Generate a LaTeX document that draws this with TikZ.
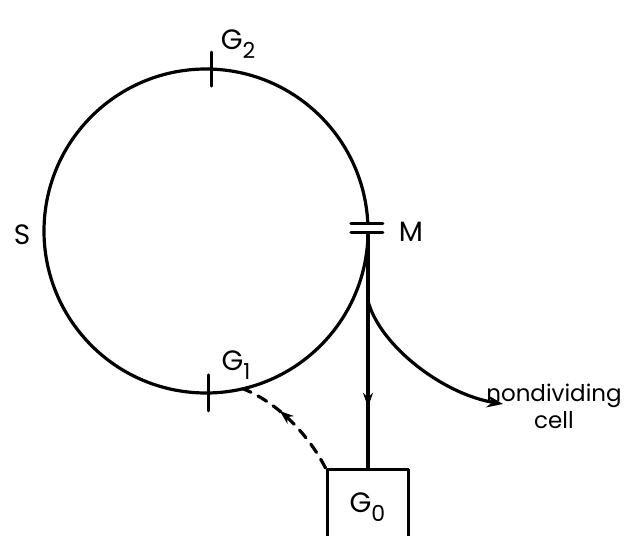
\documentclass[tikz,border=0pt]{standalone}
\usepackage{fontspec}
\setmainfont{Poppins}
\usetikzlibrary{calc}
\usetikzlibrary{arrows.meta,decorations.markings,positioning}

\begin{document}
\begin{tikzpicture}[
  x=0.5pt,y=-0.5pt,
  line cap=round,
  line join=round,
  cyc/.style={draw=black,line width=1.6pt},
  tick/.style={draw=black,line width=1.5pt},
  lbl/.style={font=\fontsize{14}{16}\selectfont,inner sep=0pt},
  small/.style={font=\fontsize{11.5}{13.5}\selectfont,inner sep=0pt},
  midarrow/.style={postaction={decorate},
    decoration={markings,mark=at position #1 with {\arrow{Stealth[length=7pt,width=5pt]}}}}
]
  \useasboundingbox (0,0) rectangle (624,535);

  % The cycle
  \coordinate (C) at (206,231);
  \coordinate (mtop) at ($(C)+(-2.8:162)$);
  \coordinate (mbot) at ($(C)+(0.7:162)$);
  \coordinate (g1) at ($(C)+(89:162)$);
  \coordinate (g2) at ($(C)+(-88:162)$);
  \coordinate (g1in) at ($(C)+(76.8:162)$);
  \draw[cyc] (mbot) arc[start angle=0.7,end angle=357.2,radius=162];

  % Phase marks
  \draw[tick] ($(g1)+(0,-18)$) -- ($(g1)+(0,18)$);
  \draw[tick] ($(g2)+(0,-17)$) -- ($(g2)+(0,17)$);
  \draw[tick] ($(mtop)+(-17,0)$) -- ($(mtop)+(15,0)$);
  \draw[tick] ($(mbot)+(-17,0)$) -- ($(mbot)+(15,0)$);

  % Resting state
  \node[draw,line width=1.5pt,anchor=north,minimum width=40.5pt,minimum height=38pt,lbl]
    (g0) at (367.5,468) {G\raisebox{-0.6ex}{\fontsize{11}{12}\selectfont 0}};

  % Exits from mitosis
  \coordinate (split) at ($(mbot)+(0,68)$);
  \coordinate (tip) at (503,404);
  \draw[cyc,midarrow=0.74] (mbot) -- (mbot |- g0.north);
  \draw[cyc,-{Stealth[length=8pt,width=6pt]}]
    (split) .. controls ($(split)+(12,45)$) and ($(tip)+(-60,-10)$) .. (tip);
  \draw[cyc,dash pattern=on 5pt off 4pt,midarrow=0.63]
    (g0.north west) .. controls (307,432) and (276,402) .. (g1in);

  % Labels
  \node[lbl] (s) at (22,235) {S};
  \node[lbl] (m) at (411,232) {M};
  \node[lbl] (g1lab) at (236,365) {G\raisebox{-0.6ex}{\fontsize{11}{12}\selectfont 1}};
  \node[lbl] (g2lab) at (238,44) {G\raisebox{-0.6ex}{\fontsize{11}{12}\selectfont 2}};
  \node[small,align=center] (ndc) at (554,406) {nondividing\\cell};
\end{tikzpicture}
\end{document}
